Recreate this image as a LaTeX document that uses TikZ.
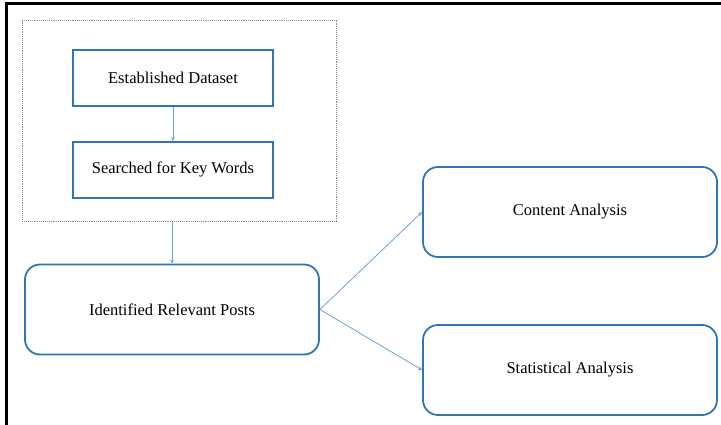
\documentclass[tikz,border=0pt]{standalone}
\usepackage{fontspec}
\setmainfont{Liberation Serif}
\usetikzlibrary{positioning}
\usetikzlibrary{fit}
\definecolor{mblue}{RGB}{46,117,182}
\definecolor{lblue}{RGB}{110,160,215}
\definecolor{mgrey}{RGB}{120,140,165}

\begin{document}
\begin{tikzpicture}[x=1pt, y=-1pt,
    every node/.style={font=\fontsize{16.5}{20}\selectfont},
    step box/.style={draw=mblue, line width=1.8pt, minimum width=200pt, minimum height=56pt, inner sep=0pt},
    round box/.style={step box, rounded corners=15pt, minimum width=294pt, minimum height=90pt},
    frame/.style={draw=mgrey, densely dotted, line width=0.9pt, inner sep=0pt},
    arrow/.style={-stealth, draw=lblue, line width=0.8pt},
]
\useasboundingbox (0,0) rectangle (721,425);
\draw[line width=3pt] (6,425) -- (6,4) -- (721,4);

\node[step box] (est) at (173,78) {Established Dataset};
\node[step box, below=34pt of est] (kw) {Searched for Key Words};

\coordinate[above left=29pt and 50pt of est.north west] (frame_nw);
\coordinate[below right=23pt and 63pt of kw.south east] (frame_se);
\node[frame, fit=(frame_nw)(frame_se)] (frame) {};

\node[round box] (posts) at (172,309.5) {Identified Relevant Posts};
\node[round box] (content) at (570,212) {Content Analysis};
\node[round box] (stats) at (570,370) {Statistical Analysis};

\draw[arrow] (est) -- (kw);
\draw[arrow] (frame.south -| posts.north) -- (posts.north);
\draw[arrow] (posts.east) -- (content.west);
\draw[arrow] (posts.east) -- (stats.west);

\end{tikzpicture}
\end{document}
